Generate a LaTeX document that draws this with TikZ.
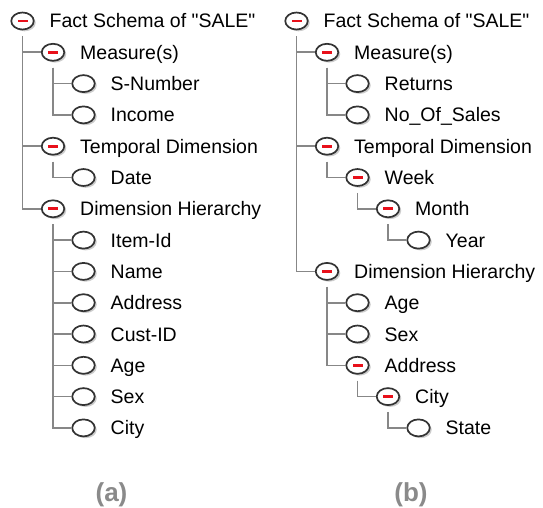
\documentclass[tikz,border=0pt]{standalone}
\usepackage{fontspec}
\setmainfont{Liberation Sans}[Ligatures=TeXOff]
\usetikzlibrary{shapes.geometric,shadows}
\definecolor{iconline}{HTML}{333333}
\definecolor{connline}{HTML}{878787}
\definecolor{minusred}{HTML}{E8101A}
\definecolor{caplbl}{HTML}{8A8A8A}
\tikzset{
  leaficon/.style={ellipse, minimum width=22.5pt, minimum height=17pt, inner sep=0pt,
    draw=iconline, line width=1.7pt, fill=white,
    drop shadow={shadow xshift=2pt, shadow yshift=-1.8pt, fill=black!20, opacity=1}},
  openicon/.style={leaficon, path picture={\fill[minusred]
    ([xshift=-5pt,yshift=-1.4pt]path picture bounding box.center) rectangle ++(10pt,2.8pt);}},
  lbl/.style={anchor=base west, inner sep=0pt, font=\fontsize{19.5}{22}\selectfont, text=black},
  conn/.style={draw=connline, line width=1.6pt},
  caption/.style={anchor=base, inner sep=0pt, font=\fontsize{26}{30}\selectfont\bfseries, text=caplbl}
}
\newcommand\mkrow[5]{\node[#4] (#1) at (#2,#3) {}; \path (#1.center) ++(27,7) node[lbl] (#1t) {#5};}
\newcommand\mkconn[2]{\draw[conn] ([yshift=-6pt]#1.south) |- (#2.west);}
\begin{document}
\begin{tikzpicture}[x=1pt,y=-1pt]
\useasboundingbox[fill=white] (0,0) rectangle (543,508);
% ---------- left tree (a)
\mkrow{la0}{22.5}{21}{openicon}{Fact Schema of "SALE"}
\mkrow{la1}{53}{52.3}{openicon}{Measure(s)}
\mkrow{la2}{83.5}{83.6}{leaficon}{S-Number}
\mkrow{la3}{83.5}{114.9}{leaficon}{Income}
\mkrow{la4}{53}{146.2}{openicon}{Temporal Dimension}
\mkrow{la5}{83.5}{177.5}{leaficon}{Date}
\mkrow{la6}{53}{208.8}{openicon}{Dimension Hierarchy}
\mkrow{la7}{83.5}{240.1}{leaficon}{Item-Id}
\mkrow{la8}{83.5}{271.4}{leaficon}{Name}
\mkrow{la9}{83.5}{302.7}{leaficon}{Address}
\mkrow{la10}{83.5}{334}{leaficon}{Cust-ID}
\mkrow{la11}{83.5}{365.3}{leaficon}{Age}
\mkrow{la12}{83.5}{396.6}{leaficon}{Sex}
\mkrow{la13}{83.5}{427.9}{leaficon}{City}
\mkconn{la0}{la1}\mkconn{la0}{la4}\mkconn{la0}{la6}
\mkconn{la1}{la2}\mkconn{la1}{la3}
\mkconn{la4}{la5}
\mkconn{la6}{la7}\mkconn{la6}{la8}\mkconn{la6}{la9}\mkconn{la6}{la10}
\mkconn{la6}{la11}\mkconn{la6}{la12}\mkconn{la6}{la13}
% ---------- right tree (b)
\mkrow{rb0}{296.5}{21}{openicon}{Fact Schema of "SALE"}
\mkrow{rb1}{327}{52.3}{openicon}{Measure(s)}
\mkrow{rb2}{357.5}{83.6}{leaficon}{Returns}
\mkrow{rb3}{357.5}{114.9}{leaficon}{No\_Of\_Sales}
\mkrow{rb4}{327}{146.2}{openicon}{Temporal Dimension}
\mkrow{rb5}{357.5}{177.5}{openicon}{Week}
\mkrow{rb6}{388}{208.8}{openicon}{Month}
\mkrow{rb7}{418.5}{240.1}{leaficon}{Year}
\mkrow{rb8}{327}{271.4}{openicon}{Dimension Hierarchy}
\mkrow{rb9}{357.5}{302.7}{leaficon}{Age}
\mkrow{rb10}{357.5}{334}{leaficon}{Sex}
\mkrow{rb11}{357.5}{365.3}{openicon}{Address}
\mkrow{rb12}{388}{396.6}{openicon}{City}
\mkrow{rb13}{418.5}{427.9}{leaficon}{State}
\mkconn{rb0}{rb1}\mkconn{rb0}{rb4}\mkconn{rb0}{rb8}
\mkconn{rb1}{rb2}\mkconn{rb1}{rb3}
\mkconn{rb4}{rb5}\mkconn{rb5}{rb6}\mkconn{rb6}{rb7}
\mkconn{rb8}{rb9}\mkconn{rb8}{rb10}\mkconn{rb8}{rb11}
\mkconn{rb11}{rb12}\mkconn{rb12}{rb13}
% ---------- captions
\node[caption] (capa) at (111.5,501) {(a)};
\node[caption] (capb) at (411,501) {(b)};
\end{tikzpicture}
\end{document}
